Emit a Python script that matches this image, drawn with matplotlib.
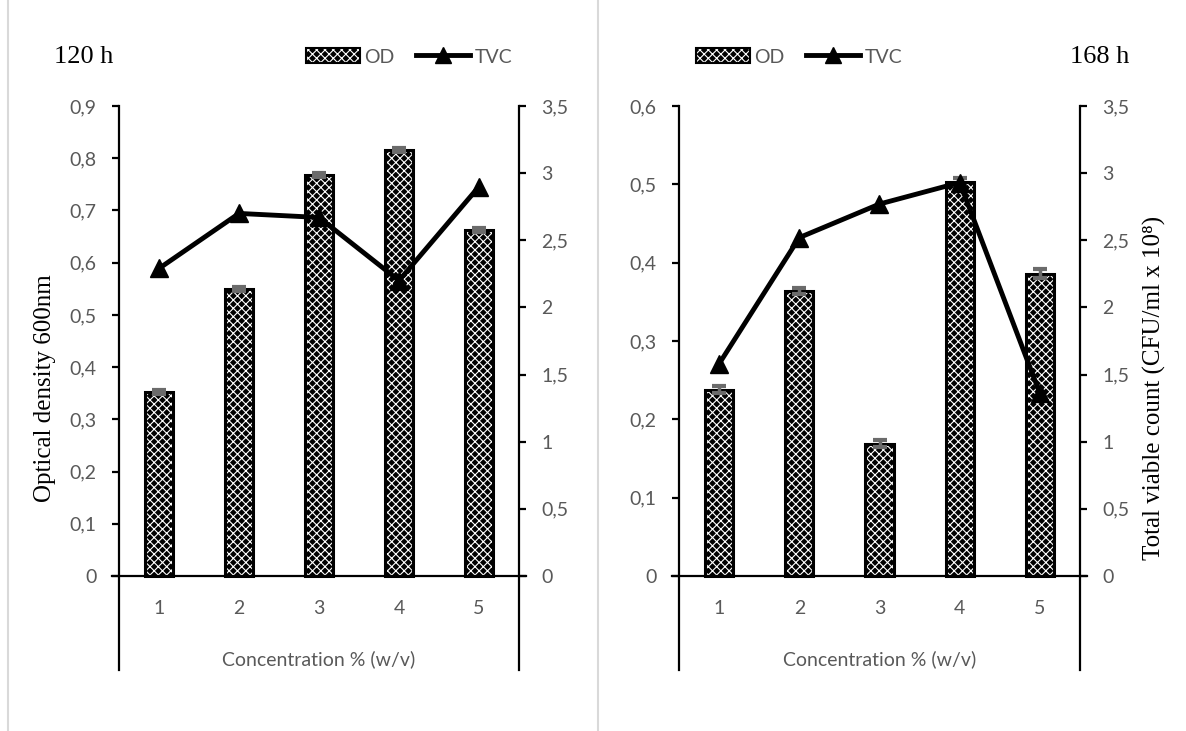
import matplotlib
matplotlib.use("Agg")
import matplotlib.pyplot as plt
from matplotlib.lines import Line2D
from matplotlib.patches import Patch
from matplotlib.legend_handler import HandlerTuple

# concentration % (w/v)
conc = [1, 2, 3, 4, 5]

# 120 h
od_120 = [0.352, 0.550, 0.768, 0.816, 0.663]
od_err_120 = [0.004, 0.004, 0.004, 0.004, 0.004]
tvc_120 = [2.29, 2.70, 2.67, 2.20, 2.90]

# 168 h
od_168 = [0.238, 0.364, 0.169, 0.503, 0.386]
od_err_168 = [0.005, 0.004, 0.004, 0.005, 0.006]
tvc_168 = [1.58, 2.52, 2.77, 2.93, 1.36]

od_ticks_120 = [0, 0.1, 0.2, 0.3, 0.4, 0.5, 0.6, 0.7, 0.8, 0.9]
od_ticks_168 = [0, 0.1, 0.2, 0.3, 0.4, 0.5, 0.6]
tvc_ticks = [0, 0.5, 1, 1.5, 2, 2.5, 3, 3.5]

TICK_FONT = "Lato"
SERIF = "Liberation Serif"
GREY = "#595959"
ERR = "#6b6b6b"

# hatch drawn in white on the black bars
plt.rcParams["hatch.color"] = "white"
plt.rcParams["hatch.linewidth"] = 0.8


def comma(v):
    return ("%g" % v).replace(".", ",")


def draw_bars(ax, x, vals, errs):
    ax.bar(x, vals, width=0.35, facecolor="black", hatch="xxxx", linewidth=0, zorder=2)
    ax.bar(x, vals, width=0.35, facecolor="none", edgecolor="black", linewidth=2.2, zorder=3)
    ax.errorbar(x, vals, yerr=errs, fmt="none", ecolor=ERR, elinewidth=2.5,
                capsize=5, capthick=3, zorder=4)


def setup_panel(ax, ax2, od_top, od_ticks):
    ax.set_xlim(0.5, 5.5)
    ax.set_ylim(-od_top * 94 / 470, od_top)
    ax2.set_ylim(-3.5 * 94 / 470, 3.5)

    for a in (ax, ax2):
        a.spines["top"].set_visible(False)
        for s in ("left", "right"):
            a.spines[s].set_linewidth(1.6)
        a.patch.set_visible(False)
    ax.spines["right"].set_visible(False)
    ax2.spines["left"].set_visible(False)
    ax2.spines["bottom"].set_visible(False)
    ax.spines["bottom"].set_position(("data", 0))
    ax.spines["bottom"].set_bounds(0.41, 5.59)
    ax.spines["bottom"].set_linewidth(1.6)

    ax.set_yticks(od_ticks)
    ax.set_yticklabels([comma(v) for v in od_ticks])
    ax2.set_yticks(tvc_ticks)
    ax2.set_yticklabels([comma(v) for v in tvc_ticks])
    ax.set_xticks(conc)
    ax.set_xticklabels([str(c) for c in conc])

    for a in (ax, ax2):
        a.tick_params(axis="y", direction="out", length=5, width=1.6, pad=11,
                      labelsize=14, labelcolor=GREY)
    ax.tick_params(axis="x", length=0, pad=17, labelsize=14, labelcolor=GREY)
    for lab in ax.get_xticklabels() + ax.get_yticklabels() + ax2.get_yticklabels():
        lab.set_fontfamily(TICK_FONT)

    ax.set_xlabel("Concentration % (w/v)", fontsize=14, color=GREY, family=TICK_FONT)
    ax.xaxis.set_label_coords(0.5, 0.035)


def add_legend(ax, fig, cx, cy):
    od_handle = (Patch(facecolor="black", hatch="xxxx", linewidth=0),
                 Patch(facecolor="none", edgecolor="black", linewidth=1.5))
    tvc_handle = Line2D([0], [0], color="black", linewidth=3.5, marker="^", markersize=11)
    leg = ax.legend([od_handle, tvc_handle], ["OD", "TVC"], ncol=2, frameon=False,
                    loc="center", bbox_to_anchor=(cx / 1186, 1 - cy / 731),
                    bbox_transform=fig.transFigure, handlelength=2.8, handleheight=0.8,
                    handletextpad=0.2, columnspacing=1.1,
                    handler_map={tuple: HandlerTuple(ndivide=1, pad=0)},
                    prop={"family": TICK_FONT, "size": 14})
    for t in leg.get_texts():
        t.set_color(GREY)


fig = plt.figure(figsize=(11.86, 7.31), dpi=100)

# left panel, 120 h
ax_l = fig.add_axes([119 / 1186, 61 / 731, 400 / 1186, 564 / 731])
ax_l2 = ax_l.twinx()
draw_bars(ax_l, conc, od_120, od_err_120)
ax_l2.plot(conc, tvc_120, color="black", linewidth=3.5, marker="^", markersize=13, zorder=5)
setup_panel(ax_l, ax_l2, 0.9, od_ticks_120)
ax_l.set_ylabel("Optical density 600nm", family=SERIF, fontsize=18, labelpad=10)
add_legend(ax_l2, fig, 409, 57)
fig.text(84 / 1186, 1 - 57 / 731, "120 h", family=SERIF, fontsize=19,
         ha="center", va="center")

# right panel, 168 h
ax_r = fig.add_axes([679 / 1186, 61 / 731, 401 / 1186, 564 / 731])
ax_r2 = ax_r.twinx()
draw_bars(ax_r, conc, od_168, od_err_168)
ax_r2.plot(conc, tvc_168, color="black", linewidth=3.5, marker="^", markersize=13, zorder=5)
setup_panel(ax_r, ax_r2, 0.6, od_ticks_168)
ax_r2.set_ylabel("Total viable count (CFU/ml x 10\u2078)", family=SERIF, fontsize=18,
                 labelpad=10)
add_legend(ax_r2, fig, 799, 57)
fig.text(1100 / 1186, 1 - 57 / 731, "168 h", family=SERIF, fontsize=19,
         ha="center", va="center")

# light chart borders
for xp in (8, 598):
    fig.add_artist(Line2D([xp / 1186, xp / 1186], [0, 1], transform=fig.transFigure,
                          color="#d9d9d9", linewidth=1.5))

fig.savefig("out.png", dpi=100)
